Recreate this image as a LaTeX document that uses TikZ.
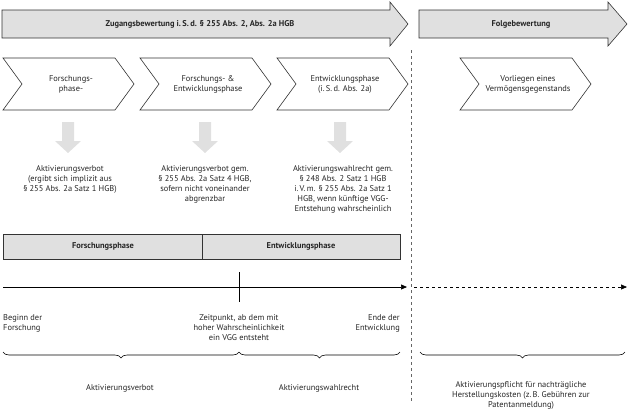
\documentclass[tikz,border=0pt]{standalone}
\usepackage{fontspec}
\setmainfont{PT Sans}
\usetikzlibrary{decorations.pathreplacing,arrows.meta}
\begin{document}
\begin{tikzpicture}[x=1pt,y=-1pt,
  txt/.style={font=\fontsize{8.4}{10}\selectfont,align=center,inner sep=0pt,text=black!85},
  bt/.style={txt,font=\fontsize{8.4}{10}\bfseries},
  big/.style={draw=black!80,fill=black!12,line width=0.6pt},
  chev/.style={draw=black!80,fill=white,line width=0.6pt},
  darr/.style={fill=black!12,draw=none},
  brc/.style={decorate,decoration={brace,mirror,amplitude=6pt},line width=0.6pt}]
\useasboundingbox (0,0) rectangle (630,416);
% top arrows
\draw[big] (2,10) -- (390,10) -- (390,2) -- (408,24) -- (390,46) -- (390,38) -- (2,38) -- cycle;
\node[bt] (t1) at (200,24) {Zugangsbewertung i.\,S.\,d. § 255 Abs. 2, Abs. 2a HGB};
\draw[big] (419,10) -- (608,10) -- (608,2) -- (627,24) -- (608,46) -- (608,38) -- (419,38) -- cycle;
\node[bt] (t2) at (521,24) {Folgebewertung};
% chevrons
\foreach \x/\n in {3/c1,140/c2,277/c3,460/c4}{
  \draw[chev] (\x,58) -- (\x+112,58) -- (\x+131,84) -- (\x+112,110) -- (\x,110) -- (\x+19,84) -- cycle;
  \coordinate (\n) at (\x+68,84);
}
\node[txt] (l1) at (c1) {Forschungs-\\phase-};
\node[txt] (l2) at (c2) {Forschungs- \&\\Entwicklungsphase};
\node[txt] (l3) at (c3) {Entwicklungsphase\\(i.\,S.\,d. Abs. 2a)};
\node[txt] (l4) at (c4) {Vorliegen eines\\Vermögensgegenstands};
% down arrows
\foreach \x in {68,205,340}{
  \fill[darr] (\x-6,122) -- (\x+6,122) -- (\x+6,141) -- (\x+13,141) -- (\x,153) -- (\x-13,141) -- (\x-6,141) -- cycle;
}
\node[txt,anchor=north] (a1) at (70,165) {Aktivierungsverbot\\(ergibt sich implizit aus\\§ 255 Abs. 2a Satz 1 HGB)};
\node[txt,anchor=north] (a2) at (205,165) {Aktivierungsverbot gem.\\§ 255 Abs. 2a Satz 4 HGB,\\sofern nicht voneinander\\abgrenzbar};
\node[txt,anchor=north] (a3) at (343,165) {Aktivierungswahlrecht gem.\\§ 248 Abs. 2 Satz 1 HGB\\i.\,V.\,m. § 255 Abs. 2a Satz 1\\HGB, wenn künftige VGG-\\Entstehung wahrscheinlich};
% dashed separator
\draw[dashed,black!60,line width=0.5pt] (411,50) -- (411,402);
% phase bars
\draw[big,line width=0.5pt] (3,234) rectangle (202,259);
\draw[big,line width=0.5pt] (202,234) rectangle (400,259);
\node[bt] (p1) at (103,246.5) {Forschungsphase};
\node[bt] (p2) at (301,246.5) {Entwicklungsphase};
% timeline
\coordinate (s) at (3,287);
\coordinate (e) at (407,287);
\coordinate (ds) at (414,287);
\coordinate (de) at (627,287);
\draw[line width=0.7pt,-{Triangle[length=6pt,width=5pt]}] (s) -- (e);
\draw[dashed,line width=0.6pt,-{Triangle[length=6pt,width=5pt]}] (ds) -- (de);
\draw[line width=0.5pt] (239,272) -- (239,302);
\node[txt,anchor=north west,align=left] (b1) at (3,314) {Beginn der\\Forschung};
\node[txt,anchor=north] (b2) at (239,314) {Zeitpunkt, ab dem mit\\hoher Wahrscheinlichkeit\\ein VGG entsteht};
\node[txt,anchor=north east,align=right] (b3) at (400,314) {Ende der\\Entwicklung};
% braces
\draw[brc] (3,352) -- (239,352);
\draw[brc] (239,352) -- (400,352);
\draw[brc] (420,352) -- (625,352);
\node[txt] (r1) at (120,388) {Aktivierungsverbot};
\node[txt] (r2) at (319,388) {Aktivierungswahlrecht};
\node[txt,anchor=north] (r3) at (521,381) {Aktivierungspflicht für nachträgliche\\Herstellungskosten (z.\,B. Gebühren zur\\Patentanmeldung)};
\end{tikzpicture}
\end{document}
